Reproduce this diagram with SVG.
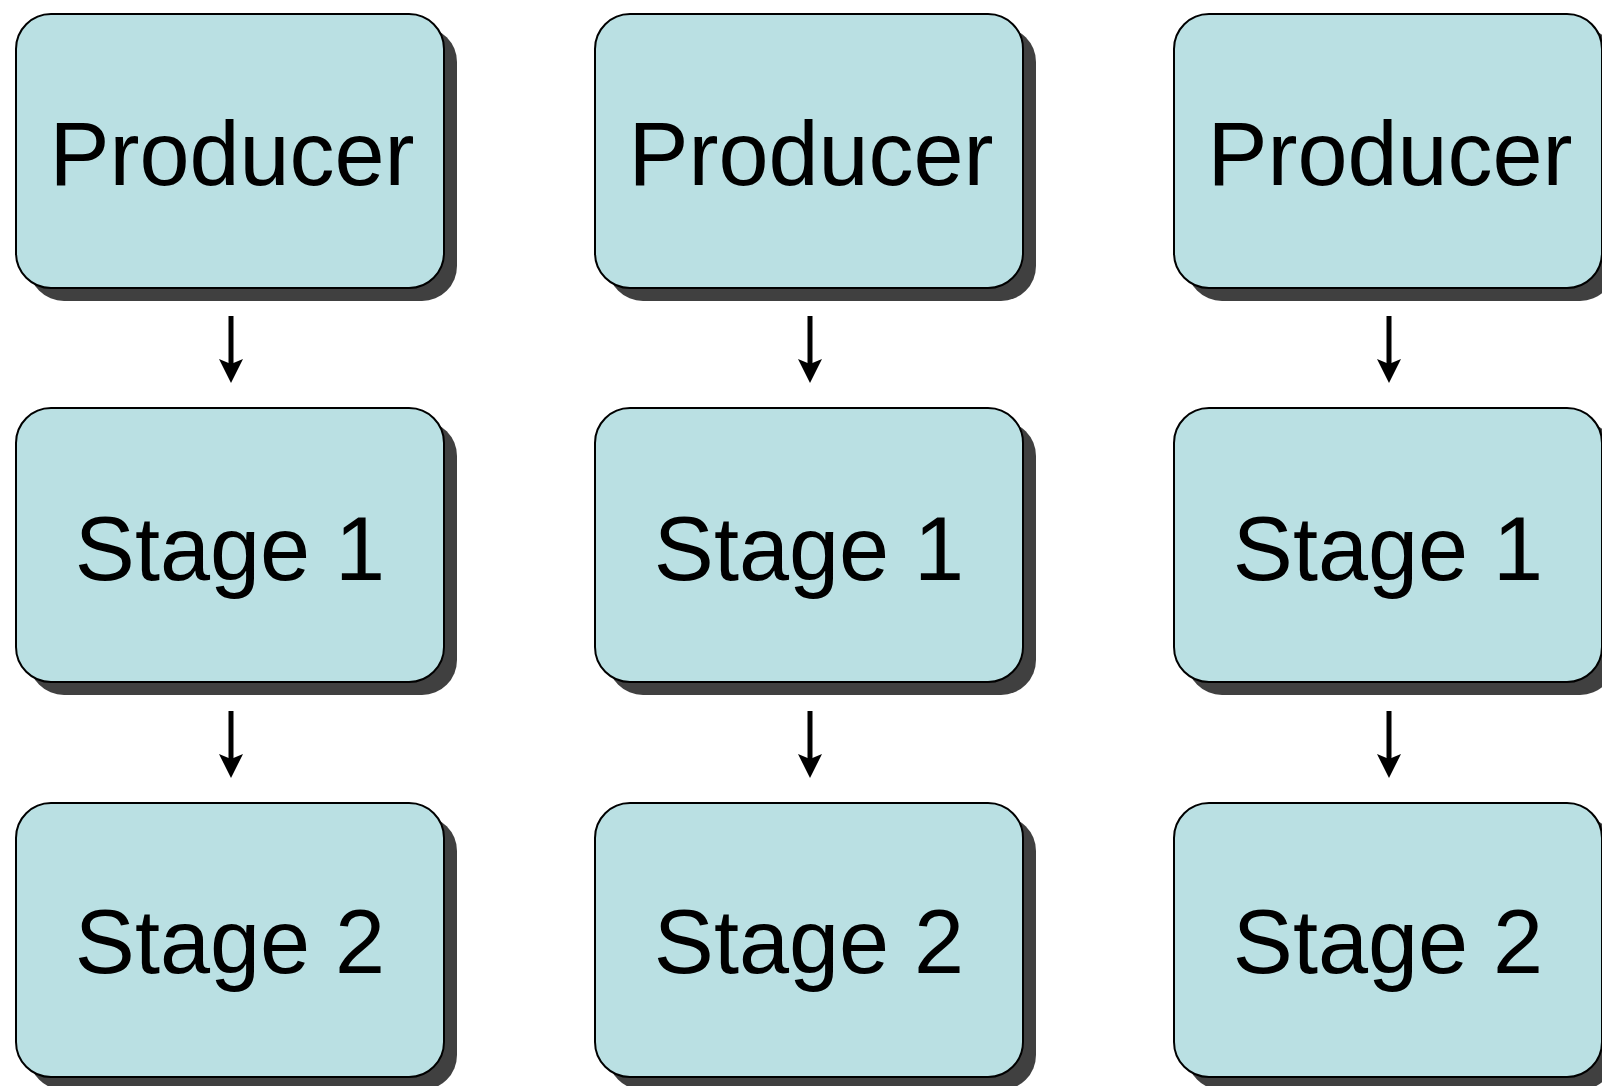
<svg xmlns="http://www.w3.org/2000/svg" width="1602" height="1086" viewBox="0 0 1602 1086">
<style>
.shadow{fill:#404040;}
.box{fill:#bae0e3;stroke:#000;stroke-width:2;}
.lbl{font-family:"Liberation Sans",Arial,sans-serif;font-size:90px;fill:#000;text-anchor:middle;}
.conn{stroke:#000;stroke-width:5;fill:none;}
</style>
<defs>
<marker id="ah" viewBox="0 0 24 24" refX="10" refY="12" markerWidth="24" markerHeight="24" markerUnits="userSpaceOnUse" orient="auto">
<path d="M0,0 L24,12 L0,24 L5,12 Z" fill="#000"/>
</marker>
<g id="nodeShape">
<rect class="shadow" x="13" y="13" width="428" height="274" rx="35" ry="35"/>
<rect class="box" x="0" y="0" width="428" height="274" rx="35" ry="35"/>
</g>
</defs>
<rect width="1602" height="1086" fill="#fff"/>
<g id="connectors">
<line class="conn" x1="231" y1="316" x2="231" y2="369" marker-end="url(#ah)"/>
<line class="conn" x1="231" y1="711" x2="231" y2="764" marker-end="url(#ah)"/>
<line class="conn" x1="810" y1="316" x2="810" y2="369" marker-end="url(#ah)"/>
<line class="conn" x1="810" y1="711" x2="810" y2="764" marker-end="url(#ah)"/>
<line class="conn" x1="1389" y1="316" x2="1389" y2="369" marker-end="url(#ah)"/>
<line class="conn" x1="1389" y1="711" x2="1389" y2="764" marker-end="url(#ah)"/>
</g>
<g id="producer-1" transform="translate(16,14)"><use href="#nodeShape"/><text class="lbl" x="216" y="171">Producer</text></g>
<g id="stage1-1" transform="translate(16,408)"><use href="#nodeShape"/><text class="lbl" x="214" y="172">Stage 1</text></g>
<g id="stage2-1" transform="translate(16,803)"><use href="#nodeShape"/><text class="lbl" x="214" y="170">Stage 2</text></g>
<g id="producer-2" transform="translate(595,14)"><use href="#nodeShape"/><text class="lbl" x="216" y="171">Producer</text></g>
<g id="stage1-2" transform="translate(595,408)"><use href="#nodeShape"/><text class="lbl" x="214" y="172">Stage 1</text></g>
<g id="stage2-2" transform="translate(595,803)"><use href="#nodeShape"/><text class="lbl" x="214" y="170">Stage 2</text></g>
<g id="producer-3" transform="translate(1174,14)"><use href="#nodeShape"/><text class="lbl" x="216" y="171">Producer</text></g>
<g id="stage1-3" transform="translate(1174,408)"><use href="#nodeShape"/><text class="lbl" x="214" y="172">Stage 1</text></g>
<g id="stage2-3" transform="translate(1174,803)"><use href="#nodeShape"/><text class="lbl" x="214" y="170">Stage 2</text></g>
</svg>
